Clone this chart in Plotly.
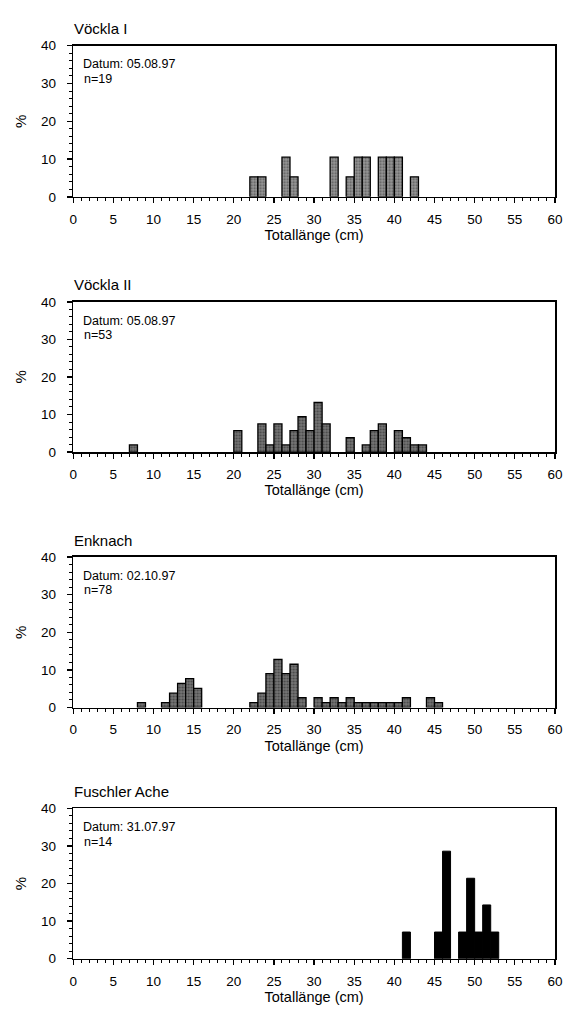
import plotly.graph_objects as go

# ---- data (bin lower edge in cm, percentage) ----
titles = ["Vöckla I", "Vöckla II", "Enknach", "Fuschler Ache"]
dates = ["Datum: 05.08.97", "Datum: 05.08.97", "Datum: 02.10.97", "Datum: 31.07.97"]
ns = ["n=19", "n=53", "n=78", "n=14"]

len_v1 = [22, 23, 26, 27, 32, 34, 35, 36, 38, 39, 40, 42]
pct_v1 = [5.3, 5.3, 10.5, 5.3, 10.5, 5.3, 10.5, 10.5, 10.5, 10.5, 10.5, 5.3]

len_v2 = [7, 20, 23, 24, 25, 26, 27, 28, 29, 30, 31, 34, 36, 37, 38, 40, 41, 42, 43]
pct_v2 = [1.9, 5.7, 7.5, 1.9, 7.5, 1.9, 5.7, 9.4, 5.7, 13.2, 7.5, 3.8, 1.9, 5.7, 7.5, 5.7, 3.8, 1.9, 1.9]

len_en = [8, 11, 12, 13, 14, 15, 22, 23, 24, 25, 26, 27, 28, 30, 31, 32, 33, 34,
          35, 36, 37, 38, 39, 40, 41, 44, 45]
pct_en = [1.3, 1.3, 3.8, 6.4, 7.7, 5.1, 1.3, 3.8, 9.0, 12.8, 9.0, 11.5, 2.6, 2.6, 1.3, 2.6, 1.3, 2.6,
          1.3, 1.3, 1.3, 1.3, 1.3, 1.3, 2.6, 2.6, 1.3]

len_fa = [41, 45, 46, 48, 49, 50, 51, 52]
pct_fa = [7.1, 7.1, 28.6, 7.1, 21.4, 7.1, 14.3, 7.1]

x_ticks = [0, 5, 10, 15, 20, 25, 30, 35, 40, 45, 50, 55, 60]
y_ticks = [0, 10, 20, 30, 40]

series = [(len_v1, pct_v1), (len_v2, pct_v2), (len_en, pct_en), (len_fa, pct_fa)]
W, H = 574, 1016
rows_px = [(39.3, 192.7), (299.3, 451.7), (558.3, 711.0), (813.3, 966.0)]
left_px, right_px = 70.7, 562.7

FONT = "Liberation Sans, Arial, sans-serif"
fig = go.Figure()
styles = [
    dict(bg="#999999", fg="#1a1a1a"),
    dict(bg="#777777", fg="#111111"),
    dict(bg="#777777", fg="#111111"),
    None,
]

for i, ((xs, ys), (top, bot)) in enumerate(zip(series, rows_px)):
    k = "" if i == 0 else str(i + 1)
    st = styles[i]
    if st is None:
        marker = dict(color="black", line=dict(color="black", width=1))
    else:
        marker = dict(color=st["bg"], line=dict(color="black", width=1.3),
                      pattern=dict(shape=".", fgcolor=st["fg"], bgcolor=st["bg"],
                                   size=3, solidity=0.4))
    fig.add_trace(go.Bar(x=xs, y=ys, width=1, offset=0, marker=marker,
                         xaxis="x" + k, yaxis="y" + k, showlegend=False, hoverinfo="skip"))
    ydom = [1 - bot / H, 1 - top / H]
    ax_common = dict(showline=True, linecolor="black", linewidth=1.6, mirror=True,
                     ticks="outside", tickcolor="black", showgrid=False, zeroline=False,
                     ticklabeloverflow="allow",
                     tickfont=dict(family=FONT, size=13.5, color="black"))
    fig.update_layout(**{
        "xaxis" + k: dict(ax_common, domain=[left_px / W, right_px / W], range=[0, 60],
                          tickvals=x_ticks, ticklen=5, tickwidth=1.3, ticklabelstandoff=4,
                          minor=dict(dtick=1, ticklen=3, ticks="outside", tickcolor="black", tickwidth=1),
                          anchor="y" + k,
                          title=dict(text="Totallänge (cm)", standoff=4,
                                     font=dict(family=FONT, size=14.5, color="black"))),
        "yaxis" + k: dict(ax_common, domain=ydom, range=[0, 40], tickvals=y_ticks,
                          ticklen=5, tickwidth=1.3, ticklabelstandoff=8,
                          minor=dict(dtick=2, ticklen=3, ticks="outside", tickcolor="black", tickwidth=1),
                          anchor="x" + k),
    })
    # panel title
    fig.add_annotation(text=titles[i], xref="x" + k + " domain", yref="y" + k + " domain",
                       x=-0.003, y=1.0, xanchor="left", yanchor="middle", yshift=17, showarrow=False,
                       font=dict(family=FONT, size=15, color="black"))
    # date / n
    fig.add_annotation(text=dates[i], xref="x" + k + " domain", yref="y" + k + " domain",
                       x=0.0155, y=1 - 19 / 153, xanchor="left", yanchor="middle", showarrow=False,
                       font=dict(family=FONT, size=12.5, color="black"))
    fig.add_annotation(text=ns[i], xref="x" + k + " domain", yref="y" + k + " domain",
                       x=0.018, y=1 - 34 / 153, xanchor="left", yanchor="middle", showarrow=False,
                       font=dict(family=FONT, size=12.5, color="black"))
    # y label
    fig.add_annotation(text="%", xref="paper", yref="y" + k + " domain",
                       x=17 / W, y=0.5,
                       xanchor="center", yanchor="middle", textangle=-90, showarrow=False,
                       font=dict(family=FONT, size=15, color="black"))

fig.update_layout(width=W, height=H, margin=dict(l=0, r=0, t=0, b=0),
                  paper_bgcolor="white", plot_bgcolor="white", bargap=0, hovermode=False)
fig.write_html("out.html", config={"displayModeBar": False, "staticPlot": True},
               post_script="document.body.style.margin='0px';"
                           "document.body.style.overflow='hidden';"
                           "document.documentElement.style.overflow='hidden';")
